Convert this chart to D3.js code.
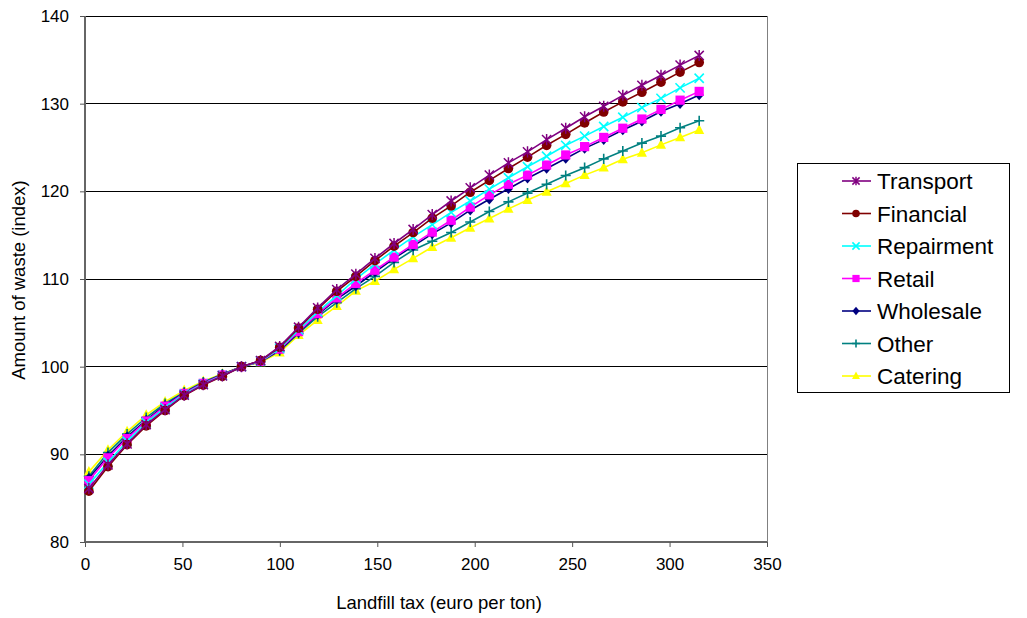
<!DOCTYPE html>
<html>
<head>
<meta charset="utf-8">
<script src="https://cdn.jsdelivr.net/npm/d3@7"></script>
<style>
  html, body { margin: 0; padding: 0; background: #fff; }
  svg { display: block; font-family: "Liberation Sans", Arial, sans-serif; }
</style>
</head>
<body>
<svg id="chart" width="1027" height="618"></svg>
<script>
// ---- data ----
const taxValues = [2, 11.8, 21.6, 31.4, 41.1, 50.9, 60.7, 70.5, 80.3, 90.1, 99.9, 109.6, 119.4, 129.2, 139, 148.8, 158.6, 168.4, 178.2, 187.9, 197.7, 207.5, 217.3, 227.1, 236.9, 246.7, 256.4, 266.2, 276, 285.8, 295.6, 305.4, 315.2];

const transport  = [86.1, 88.8, 91.2, 93.4, 95.1, 96.75, 97.95, 98.95, 100, 100.7, 102.3, 104.5, 106.7, 108.8, 110.55, 112.35, 114.05, 115.65, 117.35, 118.9, 120.4, 121.85, 123.25, 124.5, 125.9, 127.2, 128.5, 129.7, 130.95, 132.1, 133.25, 134.4, 135.5];
const financial  = [85.8, 88.6, 91.1, 93.25, 95.0, 96.7, 97.9, 98.9, 100, 100.7, 102.2, 104.4, 106.55, 108.6, 110.3, 112.1, 113.75, 115.3, 116.95, 118.35, 119.9, 121.25, 122.6, 123.9, 125.25, 126.5, 127.8, 129.05, 130.2, 131.3, 132.45, 133.6, 134.7];
const repairment = [86.6, 89.1, 91.5, 93.6, 95.3, 96.85, 98.0, 99.0, 100, 100.65, 102.1, 104.2, 106.25, 108.1, 110.0, 111.7, 113.3, 114.8, 116.2, 117.6, 118.9, 120.25, 121.55, 122.8, 124.0, 125.25, 126.3, 127.4, 128.45, 129.55, 130.6, 131.8, 132.9];
const retail     = [87.0, 89.6, 91.8, 93.8, 95.5, 96.95, 98.1, 99.05, 100, 100.6, 102.0, 104.0, 106.05, 107.85, 109.5, 111.0, 112.5, 113.95, 115.35, 116.7, 118.2, 119.6, 120.8, 121.85, 123.0, 124.15, 125.1, 126.15, 127.2, 128.25, 129.35, 130.4, 131.4];
const wholesale  = [87.3, 89.8, 92.0, 93.9, 95.6, 97.0, 98.15, 99.1, 100, 100.6, 101.9, 103.9, 105.95, 107.7, 109.2, 110.8, 112.35, 113.75, 115.15, 116.4, 117.85, 119.1, 120.3, 121.5, 122.6, 123.75, 124.9, 125.9, 127.0, 128.0, 129.1, 130.0, 131.0];
const other      = [87.5, 90.2, 92.3, 94.2, 95.8, 97.1, 98.25, 99.15, 100, 100.55, 101.8, 103.8, 105.7, 107.3, 108.9, 110.3, 111.9, 113.3, 114.3, 115.3, 116.5, 117.7, 118.8, 119.8, 120.8, 121.8, 122.7, 123.7, 124.6, 125.5, 126.3, 127.25, 128.05];
const catering   = [88.0, 90.5, 92.6, 94.5, 96.0, 97.3, 98.35, 99.2, 100, 100.5, 101.6, 103.6, 105.3, 106.9, 108.65, 109.75, 111.1, 112.35, 113.65, 114.7, 115.85, 116.9, 118.0, 119.0, 119.95, 120.9, 121.85, 122.7, 123.65, 124.4, 125.3, 126.15, 127.0];

const seriesNames = ["Transport", "Financial", "Repairment", "Retail", "Wholesale", "Other", "Catering"];
const seriesColors = ["#800080", "#800000", "#00FFFF", "#FF00FF", "#000080", "#008080", "#FFFF00"];
const seriesMarkers = ["star", "circle", "cross", "square", "diamond", "plus", "triangle"];
const seriesValues = [transport, financial, repairment, retail, wholesale, other, catering];

const xTicks = [0, 50, 100, 150, 200, 250, 300, 350];
const yTicks = [80, 90, 100, 110, 120, 130, 140];
const xTitle = "Landfill tax (euro per ton)";
const yTitle = "Amount of waste (index)";

// ---- layout ----
const plot = { left: 85, right: 767, top: 16, bottom: 542 };
const svg = d3.select("#chart");

const x = d3.scaleLinear().domain([0, 350]).range([plot.left, plot.right]);
const y = d3.scaleLinear().domain([80, 140]).range([plot.bottom, plot.top]);

// gridlines
svg.append("g")
  .selectAll("line")
  .data(yTicks.filter(d => d > 80))
  .join("line")
  .attr("x1", plot.left).attr("x2", plot.right)
  .attr("y1", d => y(d)).attr("y2", d => y(d))
  .attr("stroke", "#000").attr("stroke-width", 1)
  .attr("shape-rendering", "crispEdges");

// plot border (right)
svg.append("line")
  .attr("x1", plot.right).attr("x2", plot.right)
  .attr("y1", plot.top).attr("y2", plot.bottom)
  .attr("stroke", "#808080").attr("shape-rendering", "crispEdges");

// axes
const xAxis = d3.axisBottom(x).tickValues(xTicks).tickSize(5).tickPadding(11).tickFormat(d3.format("d"));
const yAxis = d3.axisLeft(y).tickValues(yTicks).tickSize(5).tickPadding(11).tickFormat(d3.format("d"));

const gx = svg.append("g").attr("transform", `translate(0,${plot.bottom})`).call(xAxis);
const gy = svg.append("g").attr("transform", `translate(${plot.left},0)`).call(yAxis);
[gx, gy].forEach(g => {
  g.select(".domain").attr("stroke", "#666").attr("stroke-width", 2);
  g.selectAll(".tick line").attr("stroke", "#555");
  g.selectAll(".tick text").attr("fill", "#000").style("font-size", "17px")
    .style("font-family", "'Liberation Sans', Arial, sans-serif");
});
gx.select(".domain").attr("d", `M${plot.left},0H${plot.right}`);
gy.select(".domain").attr("d", `M0,${plot.top}V${plot.bottom}`);

// axis titles
svg.append("text")
  .attr("x", 439).attr("y", 609)
  .attr("text-anchor", "middle")
  .style("font-size", "18.5px")
  .text(xTitle);

svg.append("text")
  .attr("transform", `translate(25,${(plot.top + plot.bottom) / 2 + 1}) rotate(-90)`)
  .attr("text-anchor", "middle")
  .style("font-size", "18.5px")
  .text(yTitle);

// marker drawing
function drawMarker(g, type, color, size) {
  const s = size;
  switch (type) {
    case "star":
      g.append("path")
        .attr("d", `M${-s},${-s}L${s},${s}M${-s},${s}L${s},${-s}M0,${-s * 1.2}V${s * 1.2}`)
        .attr("stroke", color).attr("stroke-width", 1.5).attr("fill", "none");
      break;
    case "circle":
      g.append("circle").attr("r", s * 1.05).attr("fill", color);
      break;
    case "cross":
      g.append("path")
        .attr("d", `M${-s},${-s}L${s},${s}M${-s},${s}L${s},${-s}`)
        .attr("stroke", color).attr("stroke-width", 1.6).attr("fill", "none");
      break;
    case "square":
      g.append("rect").attr("x", -s).attr("y", -s).attr("width", 2 * s).attr("height", 2 * s).attr("fill", color);
      break;
    case "diamond":
      g.append("path").attr("d", `M0,${-s * 1.15}L${s},0L0,${s * 1.15}L${-s},0Z`).attr("fill", color);
      break;
    case "plus":
      g.append("path").attr("d", `M${-s * 1.1},0H${s * 1.1}M0,${-s * 1.1}V${s * 1.1}`)
        .attr("stroke", color).attr("stroke-width", 1.6).attr("fill", "none");
      break;
    case "triangle":
      g.append("path").attr("d", `M0,${-s * 1.25}L${s * 1.1},${s * 0.85}L${-s * 1.1},${s * 0.85}Z`).attr("fill", color);
      break;
  }
}

// series (draw bottom of legend first so Transport sits on top)
const line = d3.line().x(d => x(d[0])).y(d => y(d[1]));
const order = [6, 5, 4, 3, 2, 1, 0];
order.forEach(i => {
  const pts = taxValues.map((t, k) => [t, seriesValues[i][k]]);
  const g = svg.append("g");
  g.append("path").datum(pts)
    .attr("d", line).attr("fill", "none")
    .attr("stroke", seriesColors[i]).attr("stroke-width", 1.6);
  pts.forEach(p => {
    const mg = g.append("g").attr("transform", `translate(${x(p[0])},${y(p[1])})`);
    drawMarker(mg, seriesMarkers[i], seriesColors[i], 4.6);
  });
});

// legend
const legend = svg.append("g");
legend.append("rect")
  .attr("x", 797.5).attr("y", 163.5).attr("width", 212).attr("height", 229)
  .attr("fill", "#fff").attr("stroke", "#000").attr("stroke-width", 1);
const legendY = d3.scalePoint().domain(seriesNames).range([181, 376]);
seriesNames.forEach((name, i) => {
  const yy = legendY(name);
  const item = legend.append("g").attr("transform", `translate(0,${yy})`);
  item.append("line").attr("x1", 842).attr("x2", 871).attr("y1", 0).attr("y2", 0)
    .attr("stroke", seriesColors[i]).attr("stroke-width", 1.6);
  const mg = item.append("g").attr("transform", "translate(856,0)");
  drawMarker(mg, seriesMarkers[i], seriesColors[i], 3.6);
  item.append("text").attr("x", 877).attr("y", 0).attr("dy", "0.36em")
    .style("font-size", "22.5px").text(name);
});
</script>
</body>
</html>
